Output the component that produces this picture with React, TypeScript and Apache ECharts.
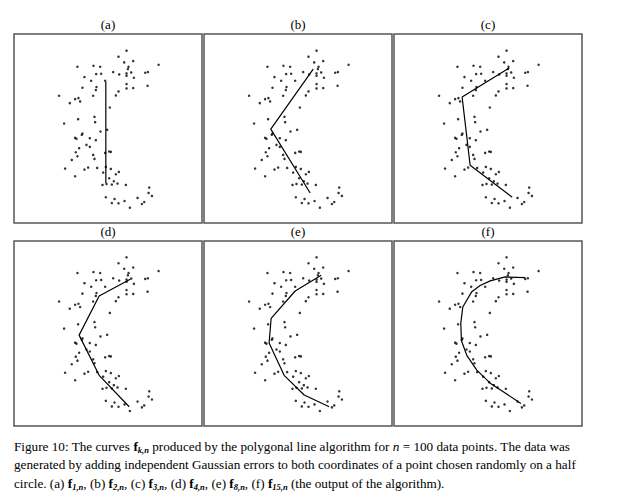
import React, { useEffect, useRef } from "react";
import * as echarts from "echarts";

const points: number[][] = [
  [352,62],[328,80],[372,93],[345,97],[358,110],[356,117],[448,104],[205,110],[253,107],[273,110],[312,126],[330,133],[352,130],[366,127],[352,137],[374,143],[408,128],[416,126],[226,141],[246,152],[261,132],[276,131],[288,152],[352,162],[372,174],[352,175],[415,167],[220,173],[262,171],[260,180],[328,184],[320,196],[150,197],[198,207],[208,204],[213,214],[182,219],[252,197],[302,232],[207,267],[256,260],[258,276],[165,280],[294,299],[274,304],[198,323],[202,326],[220,310],[218,314],[242,324],[260,330],[210,354],[232,344],[242,350],[200,366],[205,378],[288,368],[300,364],[305,365],[252,374],[256,386],[188,389],[168,415],[226,418],[237,412],[264,413],[282,427],[290,410],[305,416],[320,432],[329,425],[300,444],[198,438],[314,453],[325,460],[280,464],[292,461],[308,463],[350,464],[420,472],[418,488],[428,497],[290,501],[316,506],[346,512],[308,518],[328,519],[385,503],[405,515],[398,521],[362,532]
];
const curveA: number[][] = [[290,155],[290,458]];
const curveB: number[][] = [[342,117],[215,297],[333,488]];
const curveC: number[][] = [[360,114],[219,201],[243,405],[369,501]];
const curveD: number[][] = [[363,129],[270,180],[210,300],[270,423],[360,519]];
const curveE: number[][] = [[366,117],[288,165],[216,249],[210,324],[255,423],[315,483],[390,519]];
const curveF: number[][] = [[408,124],[348,122],[303,134],[273,148],[248,167],[221,214],[215,264],[217,317],[233,362],[263,407],[303,447],[348,477],[395,509]];
const labels = ["(a)", "(b)", "(c)", "(d)", "(e)", "(f)"];
const curves = [curveA, curveB, curveC, curveD, curveE, curveF];

export default function App() {
  const ref = useRef<HTMLDivElement>(null);
  useEffect(() => {
    const chart = echarts.init(ref.current!, null, { renderer: "svg" });
    const lefts = [14, 204, 394];
    const tops = [34, 241];
    const heights = [189, 185];
    const grid: any[] = [], xAxis: any[] = [], yAxis: any[] = [], series: any[] = [], graphic: any[] = [];
    for (let i = 0; i < 6; i++) {
      const c = i % 3, r = Math.floor(i / 3);
      grid.push({ left: lefts[c], top: tops[r], width: 188, height: heights[r], show: true, borderColor: "#555", borderWidth: 1.5, backgroundColor: "#fff" });
      xAxis.push({ gridIndex: i, type: "value", min: 15, max: 578, show: false });
      yAxis.push({ gridIndex: i, type: "value", min: 12, max: 578, inverse: true, show: false });
      series.push({ type: "scatter", xAxisIndex: i, yAxisIndex: i, data: points, symbolSize: 2.5, itemStyle: { color: "#000" }, silent: true });
      series.push({ type: "line", xAxisIndex: i, yAxisIndex: i, data: curves[i], symbol: "none", lineStyle: { color: "#000", width: 1.2 }, silent: true });
      graphic.push({ type: "text", x: lefts[c] + 94, y: tops[r] - 16, style: { text: labels[i], font: "13px 'Liberation Serif'", fill: "#000", textAlign: "center" } });
    }
    const fs = 13.2;
    const rich = {
      n: { fontFamily: "Liberation Serif", fontSize: fs, fill: "#000" },
      i: { fontFamily: "Liberation Serif", fontSize: fs, fontStyle: "italic" },
      b: { fontFamily: "Liberation Serif", fontSize: fs, fontWeight: "bold" },
      s: { fontFamily: "Liberation Serif", fontSize: 8.5, fontStyle: "italic", fontWeight: "bold", padding: [6, 0, 0, 0] },
    };
    const lines = [
      "{n|Figure 10: The curves }{b|f}{s|k,n}{n| produced by the polygonal line algorithm for }{i|n}{n| = 100 data points. The data was}",
      "{n|generated by adding independent Gaussian errors to both coordinates of a point chosen randomly on a half}",
      "{n|circle. (a) }{b|f}{s|1,n}{n|, (b) }{b|f}{s|2,n}{n|, (c) }{b|f}{s|3,n}{n|, (d) }{b|f}{s|4,n}{n|, (e) }{b|f}{s|8,n}{n|, (f) }{b|f}{s|15,n}{n| (the output of the algorithm).}",
    ];
    lines.forEach((t, k) => graphic.push({ type: "text", x: 14, y: 439 + k * 18.5, style: { text: t, rich, fill: "#000", font: fs + "px 'Liberation Serif'" } }));
    chart.setOption({ animation: false, backgroundColor: "#fff", grid, xAxis, yAxis, series, graphic });
    return () => chart.dispose();
  }, []);
  return <div ref={ref} style={{ position: "fixed", left: 0, top: 0, width: 617, height: 504 }} />;
}
